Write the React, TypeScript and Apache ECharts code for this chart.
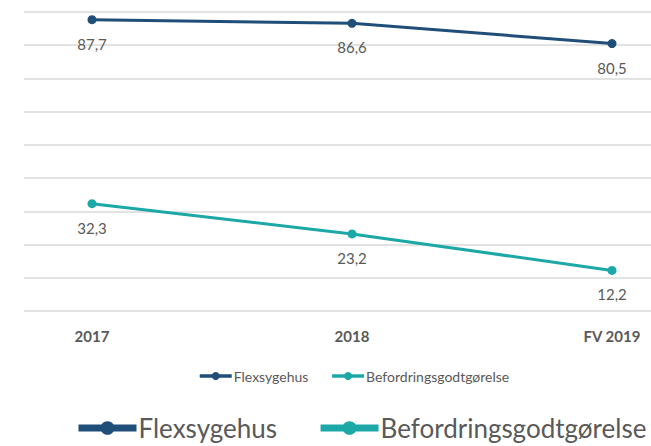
import React, { useEffect, useRef } from "react";
import * as echarts from "echarts";

const categories = ["2017", "2018", "FV 2019"];
const flexsygehus = [87.7, 86.6, 80.5];
const befordring = [32.3, 23.2, 12.2];
const seriesNames = ["Flexsygehus", "Befordringsgodtgørelse"];

const NAVY = "#1f4e79";
const TEAL = "#1ba8a6";
const TEXT = "#595959";
const FONT = "Lato";

export default function App() {
  const ref = useRef<HTMLDivElement>(null);
  useEffect(() => {
    document.body.style.margin = "0";
    const chart = echarts.init(ref.current!, null, { renderer: "svg" });
    const fmt = (p: any) => String(p.value).replace(".", ",");
    chart.setOption({
      animation: false,
      backgroundColor: "#ffffff",
      grid: [
        { left: 92, right: 39, top: 12, bottom: 135 },
        { left: 24, right: 0, top: 12, bottom: 135 },
      ],
      xAxis: [
        {
          type: "category",
          gridIndex: 0,
          data: categories,
          boundaryGap: false,
          axisLine: { show: false },
          axisTick: { show: false },
          axisLabel: {
            margin: 17,
            fontFamily: FONT,
            fontWeight: "bold",
            fontSize: 15,
            color: TEXT,
          },
        },
        { type: "value", gridIndex: 1, show: false },
      ],
      yAxis: [
        {
          type: "value",
          gridIndex: 0,
          min: 0,
          max: 90,
          interval: 10,
          show: false,
          splitLine: { show: false },
        },
        {
          type: "value",
          gridIndex: 1,
          min: 0,
          max: 90,
          interval: 10,
          axisLabel: { show: false },
          axisLine: { show: false },
          axisTick: { show: false },
          splitLine: { show: true, lineStyle: { color: "#d9d9d9", width: 1.5 } },
        },
      ],
      legend: [
        {
          data: seriesNames,
          left: 198,
          top: 369,
          itemWidth: 32,
          itemHeight: 10,
          itemGap: 22,
          padding: 0,
          lineStyle: { width: 3.5 },
          textStyle: { fontFamily: FONT, fontSize: 14, color: TEXT, padding: [0, 0, 0, -3] },
        },
        {
          data: seriesNames,
          left: 75,
          top: 415,
          width: 700,
          itemWidth: 58,
          itemHeight: 17,
          itemGap: 40,
          padding: 0,
          lineStyle: { width: 7 },
          textStyle: { fontFamily: FONT, fontSize: 26, color: TEXT, padding: [0, 0, 0, -3] },
        },
      ],
      series: [
        {
          name: seriesNames[0],
          type: "line",
          xAxisIndex: 0,
          yAxisIndex: 0,
          data: flexsygehus,
          color: NAVY,
          symbol: "circle",
          symbolSize: 9,
          lineStyle: { width: 3, color: NAVY },
          itemStyle: { color: NAVY },
          label: {
            show: true,
            position: "bottom",
            distance: 12,
            formatter: fmt,
            fontFamily: FONT,
            fontSize: 15,
            color: TEXT,
          },
        },
        {
          name: seriesNames[1],
          type: "line",
          xAxisIndex: 0,
          yAxisIndex: 0,
          data: befordring,
          color: TEAL,
          symbol: "circle",
          symbolSize: 9,
          lineStyle: { width: 3, color: TEAL },
          itemStyle: { color: TEAL },
          label: {
            show: true,
            position: "bottom",
            distance: 12,
            formatter: fmt,
            fontFamily: FONT,
            fontSize: 15,
            color: TEXT,
          },
        },
      ],
    });
    return () => chart.dispose();
  }, []);
  return (
    <div
      ref={ref}
      style={{ position: "absolute", left: 0, top: 0, width: 651, height: 446 }}
    />
  );
}
